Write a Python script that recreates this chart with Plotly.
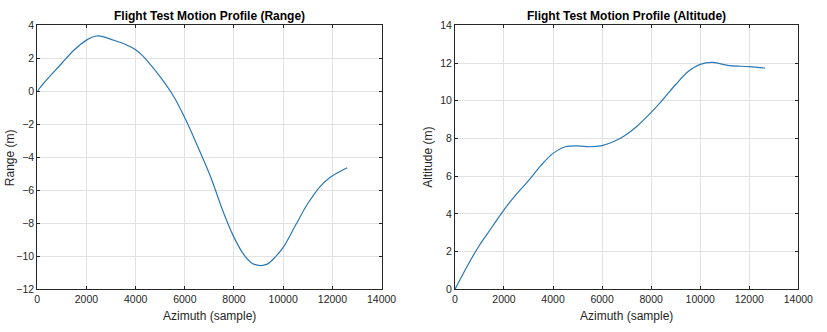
import plotly.graph_objects as go

# Range profile (left)
range_az = [0, 300, 600, 1000, 1500, 2000, 2400, 2700, 3000, 3500, 4000, 4300, 4500,
            5000, 5500, 6000, 6600, 7000, 7200, 7600, 8000, 8400, 8700, 9000, 9350, 9700,
            10000, 10500, 11000, 11500, 11900, 12600]
range_m = [0.0, 0.55, 1.05, 1.7, 2.5, 3.1, 3.35, 3.3, 3.15, 2.9, 2.52, 2.13, 1.8,
           0.88, -0.19, -1.6, -3.6, -5.0, -5.8, -7.45, -8.85, -9.9, -10.38, -10.55, -10.47, -10.0,
           -9.46, -8.12, -6.8, -5.77, -5.22, -4.63]

# Altitude profile (right)
alt_az = [0, 500, 1000, 1500, 2000, 2500, 3000, 3500, 4000, 4500, 5000, 5500, 6000,
          6500, 6900, 7400, 8000, 8450, 9000, 9500, 10000, 10500, 11200, 12000, 12650]
alt_m = [0.0, 1.23, 2.34, 3.28, 4.22, 5.03, 5.76, 6.56, 7.21, 7.56, 7.61, 7.56, 7.62,
         7.85, 8.13, 8.62, 9.38, 10.02, 10.86, 11.54, 11.93, 12.03, 11.86, 11.81, 11.73]

titles = ["Flight Test Motion Profile (Range)", "Flight Test Motion Profile (Altitude)"]
xlabel = "Azimuth (sample)"
ylabels = ["Range (m)", "Altitude (m)"]

W, H = 827, 332
line_color = "#2a78b4"
font = "Liberation Sans, Arial, sans-serif"
axcol = "#262626"

fig = go.Figure()
fig.add_trace(go.Scatter(x=range_az, y=range_m, mode="lines",
                         line=dict(color=line_color, width=1.2, shape="spline", smoothing=1.0),
                         xaxis="x", yaxis="y", showlegend=False))
fig.add_trace(go.Scatter(x=alt_az, y=alt_m, mode="lines",
                         line=dict(color=line_color, width=1.2, shape="spline", smoothing=1.0),
                         xaxis="x2", yaxis="y2", showlegend=False))

ydom = [1 - 294 / H, 1 - 20 / H]
common = dict(showline=True, linecolor=axcol, linewidth=1, mirror="ticks", ticks="inside", ticklen=3,
              tickcolor=axcol, showgrid=True, gridcolor="#e2e2e2", gridwidth=1, zeroline=False,
              tickformat="d", tickfont=dict(family=font, size=10.5, color=axcol))

fig.update_layout(
    width=W, height=H, margin=dict(l=0, r=0, t=0, b=0),
    paper_bgcolor="white", plot_bgcolor="white",
    xaxis=dict(domain=[35 / W, 387 / W], range=[0, 14000], dtick=2000, anchor="y", **common),
    yaxis=dict(domain=ydom, range=[-12, 4], dtick=2, anchor="x", **common),
    xaxis2=dict(domain=[462 / W, 813 / W], range=[0, 14000], dtick=2000, anchor="y2", **common),
    yaxis2=dict(domain=ydom, range=[0, 14], dtick=2, anchor="x2", **common),
)

ann = []
for i, (x0, x1) in enumerate([(35, 387), (462, 813)]):
    cx = (x0 + x1) / 2 / W
    ann.append(dict(text="<b>" + titles[i] + "</b>", x=cx, y=1 - 10 / H, xref="paper", yref="paper",
                    showarrow=False, font=dict(family=font, size=12, color="black"),
                    xanchor="center", yanchor="middle"))
    ann.append(dict(text=xlabel, x=cx, y=1 - 322 / H, xref="paper", yref="paper",
                    showarrow=False, font=dict(family=font, size=12, color=axcol),
                    xanchor="center", yanchor="middle"))
ann.append(dict(text=ylabels[0], x=7 / W, y=(ydom[0] + ydom[1]) / 2, xref="paper", yref="paper",
                showarrow=False, textangle=-90, font=dict(family=font, size=12, color=axcol),
                xanchor="center", yanchor="middle"))
ann.append(dict(text=ylabels[1], x=(410 + 25) / W, y=(ydom[0] + ydom[1]) / 2, xref="paper", yref="paper",
                showarrow=False, textangle=-90, font=dict(family=font, size=12, color=axcol),
                xanchor="center", yanchor="middle"))
fig.update_layout(annotations=ann)

fig.write_html("out.html")
